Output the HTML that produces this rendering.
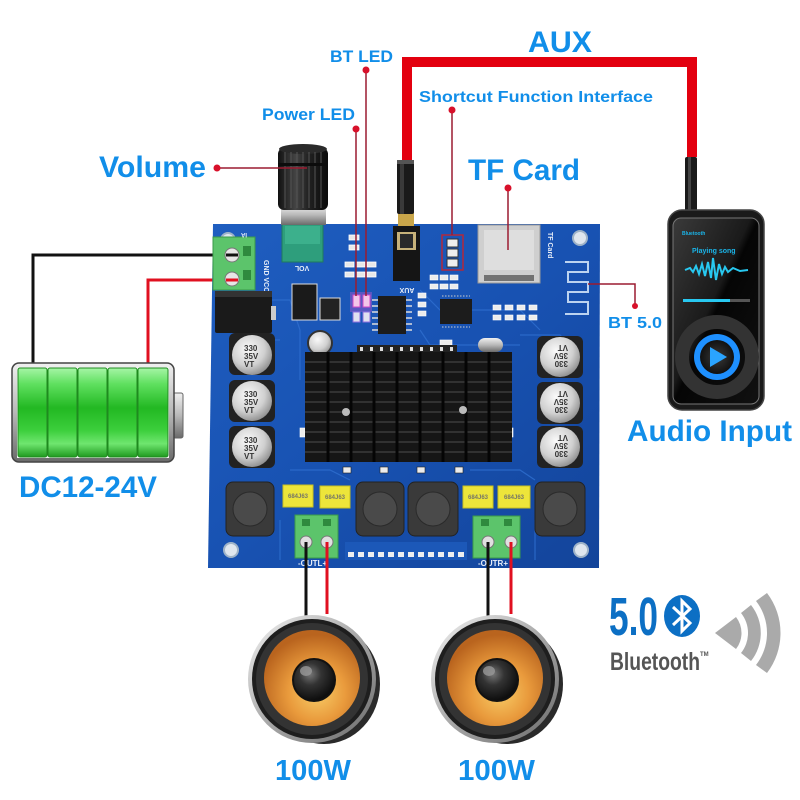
<!DOCTYPE html>
<html><head><meta charset="utf-8"><style>
html,body{margin:0;padding:0;background:#fff;}
svg{display:block;}
text{font-family:"Liberation Sans",Arial,sans-serif;font-weight:bold;}
</style></head><body>
<svg width="800" height="800" viewBox="0 0 800 800" xmlns="http://www.w3.org/2000/svg">
<defs>
<linearGradient id="board" x1="0" y1="0" x2="1" y2="1">
<stop offset="0" stop-color="#1f5ec0"/><stop offset="0.5" stop-color="#1852b2"/><stop offset="1" stop-color="#13449a"/>
</linearGradient>
<linearGradient id="cell" x1="0" y1="0" x2="0" y2="1">
<stop offset="0" stop-color="#a6f5a6"/><stop offset="0.18" stop-color="#5fe05f"/><stop offset="0.45" stop-color="#22b822"/><stop offset="0.7" stop-color="#3ccf3c"/><stop offset="0.85" stop-color="#6fe66f"/><stop offset="1" stop-color="#1f9a1f"/>
</linearGradient>
<linearGradient id="silv" x1="0" y1="0" x2="0" y2="1">
<stop offset="0" stop-color="#f0f0f0"/><stop offset="0.5" stop-color="#b8b8b8"/><stop offset="1" stop-color="#6a6a6a"/>
</linearGradient>
<linearGradient id="silvh" x1="0" y1="0" x2="1" y2="1">
<stop offset="0" stop-color="#f4f4f4"/><stop offset="0.5" stop-color="#a8a8a8"/><stop offset="1" stop-color="#6a6a6a"/>
</linearGradient>
<radialGradient id="cone" cx="0.55" cy="0.65" r="0.6">
<stop offset="0" stop-color="#f8cc66"/><stop offset="0.5" stop-color="#e99a3c"/><stop offset="1" stop-color="#b9641e"/>
</radialGradient>
<radialGradient id="dome" cx="0.4" cy="0.35" r="0.7">
<stop offset="0" stop-color="#777"/><stop offset="0.4" stop-color="#333"/><stop offset="1" stop-color="#0a0a0a"/>
</radialGradient>
<radialGradient id="cap" cx="0.4" cy="0.35" r="0.7">
<stop offset="0" stop-color="#fafafa"/><stop offset="0.6" stop-color="#d0d0d0"/><stop offset="1" stop-color="#8a8a8a"/>
</radialGradient>
<linearGradient id="knob" x1="0" y1="0" x2="1" y2="0">
<stop offset="0" stop-color="#111"/><stop offset="0.35" stop-color="#444"/><stop offset="0.6" stop-color="#222"/><stop offset="1" stop-color="#0a0a0a"/>
</linearGradient>
<linearGradient id="scr" x1="0" y1="0" x2="1" y2="1">
<stop offset="0" stop-color="#3a3a3a"/><stop offset="0.45" stop-color="#1a1a1a"/><stop offset="0.5" stop-color="#050505"/><stop offset="1" stop-color="#111"/>
</linearGradient>
<radialGradient id="play" cx="0.5" cy="0.5" r="0.5">
<stop offset="0" stop-color="#3a3a3a"/><stop offset="1" stop-color="#111"/>
</radialGradient>
</defs>

<!-- ===== Battery wires ===== -->
<polyline points="233,255 33,255 33,364" fill="none" stroke="#111" stroke-width="3"/>
<polyline points="233,280 148,280 148,364" fill="none" stroke="#e01020" stroke-width="3"/>

<!-- ===== AUX cable ===== -->
<polyline points="407,162 407,62 692,62 692,157" fill="none" stroke="#e3000f" stroke-width="10"/>

<!-- ===== PCB board ===== -->
<polygon points="213,224 600,224 599,568 208,568" fill="url(#board)"/>
<!-- traces -->
<g stroke="#2f6fd0" stroke-width="1.2" fill="none" opacity="0.8">
<path d="M260,300 L290,300 L300,330 L300,380"/>
<path d="M420,290 L440,310 L520,310 L540,330"/>
<path d="M290,470 L330,470 L350,480"/>
<path d="M470,470 L520,470 L535,480"/>
<path d="M520,335 L560,335 L570,345"/>
<path d="M240,340 L280,340"/>
<path d="M420,330 L430,345 L520,345"/>
<path d="M280,520 L280,560"/>
<path d="M535,520 L535,560"/>
</g>
<!-- mounting holes -->
<g fill="#dfe6ee" stroke="#9fb3c8" stroke-width="2">
<circle cx="228" cy="240" r="7"/><circle cx="580" cy="238" r="7"/>
<circle cx="231" cy="550" r="7"/><circle cx="581" cy="550" r="7"/>
</g>

<!-- power terminal -->
<rect x="213" y="237" width="42" height="53" fill="#5cc46b" stroke="#3a9a4a"/>
<rect x="243" y="246" width="8" height="10" fill="#2f8a3e"/>
<rect x="243" y="270" width="8" height="10" fill="#2f8a3e"/>
<circle cx="232" cy="255" r="7" fill="#e6e6e6" stroke="#777"/>
<circle cx="232" cy="279" r="7" fill="#e6e6e6" stroke="#777"/>
<line x1="226" y1="255" x2="238" y2="255" stroke="#111" stroke-width="3"/>
<line x1="226" y1="280" x2="238" y2="280" stroke="#e01020" stroke-width="3"/>
<text x="264" y="260" font-size="7" fill="#e8eef8" transform="rotate(90 264 260)">GND VCC</text>
<text x="247" y="233" font-size="6" fill="#e8eef8" transform="rotate(180 247 233)">IA</text>
<!-- DC jack -->
<rect x="215" y="291" width="57" height="42" fill="#1a1a1a" rx="2"/>
<rect x="215" y="291" width="57" height="6" fill="#333"/>
<rect x="271" y="306" width="5" height="14" fill="#ccc"/>

<!-- knob & pot -->
<rect x="282" y="223" width="41" height="39" fill="#2e9e7c" stroke="#1f7a5e"/>
<rect x="285" y="226" width="35" height="18" fill="#3cb08c"/>
<text x="302" y="270" font-size="7" fill="#e8eef8" transform="rotate(180 302 268)" text-anchor="middle">VOL</text>
<rect x="281" y="205" width="45" height="20" fill="url(#silv)"/>
<rect x="278" y="148" width="50" height="62" rx="6" fill="url(#knob)"/>
<ellipse cx="303" cy="149" rx="24" ry="5" fill="#2a2a2a"/>
<g stroke="#555" stroke-width="1">
<line x1="285" y1="152" x2="285" y2="208"/><line x1="291" y1="152" x2="291" y2="208"/>
<line x1="297" y1="152" x2="297" y2="208"/><line x1="303" y1="152" x2="303" y2="208"/>
<line x1="309" y1="152" x2="309" y2="208"/><line x1="315" y1="152" x2="315" y2="208"/>
<line x1="321" y1="152" x2="321" y2="208"/>
</g>
<rect x="278" y="163" width="50" height="3" fill="#0c0c0c"/>

<!-- SMD LEDs area -->
<g fill="#e8e8e8" stroke="#fff" stroke-width="0.8">
<rect x="349" y="235" width="10" height="5"/><rect x="349" y="245" width="10" height="5"/>
<rect x="345" y="262" width="9" height="5"/><rect x="356" y="262" width="9" height="5"/><rect x="367" y="262" width="9" height="5"/>
<rect x="345" y="272" width="9" height="5"/><rect x="356" y="272" width="9" height="5"/><rect x="367" y="272" width="9" height="5"/>
</g>
<rect x="350" y="292" width="22" height="20" fill="#d45ad8" opacity="0.35"/>
<rect x="353" y="295" width="7" height="12" fill="#f3c6e9" stroke="#d048c8"/>
<rect x="363" y="295" width="7" height="12" fill="#f3c6e9" stroke="#d048c8"/>
<rect x="353" y="312" width="7" height="10" fill="#e0e0f0" stroke="#9070e0"/>
<rect x="363" y="312" width="7" height="10" fill="#e0e0f0" stroke="#9070e0"/>
<!-- regulators -->
<rect x="292" y="284" width="25" height="36" fill="#1a1a1a" stroke="#ddd"/>
<rect x="320" y="298" width="20" height="22" fill="#222" stroke="#ddd"/>
<!-- IC1 -->
<rect x="378" y="296" width="28" height="38" fill="#1c1c1c"/>
<g stroke="#ddd" stroke-width="1.5">
<line x1="372" y1="300" x2="378" y2="300"/><line x1="372" y1="306" x2="378" y2="306"/><line x1="372" y1="312" x2="378" y2="312"/><line x1="372" y1="318" x2="378" y2="318"/><line x1="372" y1="324" x2="378" y2="324"/><line x1="372" y1="330" x2="378" y2="330"/>
<line x1="406" y1="300" x2="412" y2="300"/><line x1="406" y1="306" x2="412" y2="306"/><line x1="406" y1="312" x2="412" y2="312"/><line x1="406" y1="318" x2="412" y2="318"/><line x1="406" y1="324" x2="412" y2="324"/><line x1="406" y1="330" x2="412" y2="330"/>
</g>
<!-- IC2 -->
<rect x="440" y="299" width="32" height="25" fill="#1c1c1c"/>
<g stroke="#ccc" stroke-width="1">
<line x1="442" y1="296" x2="470" y2="296" stroke-dasharray="1.5 1.5"/>
<line x1="442" y1="327" x2="470" y2="327" stroke-dasharray="1.5 1.5"/>
</g>
<!-- misc smd -->
<g fill="#ececec" stroke="#fff" stroke-width="0.6">
<rect x="418" y="293" width="8" height="5"/><rect x="418" y="302" width="8" height="5"/><rect x="418" y="311" width="8" height="5"/>
<rect x="430" y="275" width="8" height="5"/><rect x="440" y="275" width="8" height="5"/><rect x="450" y="275" width="8" height="5"/>
<rect x="430" y="284" width="8" height="5"/><rect x="440" y="284" width="8" height="5"/><rect x="450" y="284" width="8" height="5"/>
<rect x="493" y="305" width="8" height="5"/><rect x="505" y="305" width="8" height="5"/><rect x="517" y="305" width="8" height="5"/><rect x="529" y="305" width="8" height="5"/>
<rect x="493" y="315" width="8" height="5"/><rect x="505" y="315" width="8" height="5"/><rect x="517" y="315" width="8" height="5"/><rect x="529" y="315" width="8" height="5"/>
<rect x="440" y="340" width="12" height="6"/><rect x="300" y="428" width="5" height="9"/><rect x="508" y="428" width="5" height="9"/>
</g>
<!-- crystal -->
<rect x="478" y="338" width="25" height="14" rx="7" fill="url(#silv)"/>
<!-- small cap -->
<circle cx="320" cy="343" r="12" fill="url(#cap)" stroke="#333" stroke-width="2"/>
<!-- AUX jack -->
<rect x="393" y="226" width="27" height="55" fill="#151515"/>
<rect x="397" y="232" width="19" height="18" fill="#c7b27a"/>
<rect x="400" y="234" width="13" height="14" fill="#2a2a2a"/>
<text x="407" y="292" font-size="7" fill="#e8eef8" transform="rotate(180 407 290)" text-anchor="middle">AUX</text>
<!-- plug left -->
<rect x="398" y="212" width="16" height="14" fill="#c9a64a"/>
<rect x="397" y="160" width="17" height="54" rx="2" fill="#1a1a1a"/>
<rect x="400" y="160" width="4" height="54" fill="#3a3a3a"/>
<rect x="397" y="160" width="17" height="4" fill="#555"/>
<!-- Shortcut pins -->
<rect x="442" y="235" width="21" height="35" fill="none" stroke="#b4283a" stroke-width="1.5"/>
<g fill="#eee" stroke="#333">
<rect x="447" y="239" width="11" height="8"/><rect x="447" y="249" width="11" height="8"/><rect x="447" y="259" width="11" height="8"/>
</g>
<!-- TF slot -->
<rect x="478" y="225" width="62" height="58" fill="#cfcfcf" stroke="#999"/>
<rect x="484" y="230" width="50" height="40" fill="#dedede"/>
<rect x="484" y="275" width="50" height="6" fill="#333" opacity="0.6"/>
<text x="548" y="232" font-size="7" fill="#e8eef8" transform="rotate(90 548 232)">TF Card</text>
<!-- antenna -->
<path d="M565,262 L588,262 L588,272 L568,272 L568,282 L588,282 L588,292 L568,292 L568,302 L588,302 L588,314 L565,314" fill="none" stroke="#bcd3f0" stroke-width="2"/>

<!-- heat sink -->
<rect x="357" y="345" width="100" height="8" fill="#222"/>
<g fill="#ddd"><rect x="360" y="347" width="3" height="4"/><rect x="370" y="347" width="3" height="4"/><rect x="380" y="347" width="3" height="4"/><rect x="390" y="347" width="3" height="4"/><rect x="400" y="347" width="3" height="4"/><rect x="410" y="347" width="3" height="4"/><rect x="420" y="347" width="3" height="4"/><rect x="430" y="347" width="3" height="4"/><rect x="440" y="347" width="3" height="4"/><rect x="450" y="347" width="3" height="4"/></g>
<rect x="305" y="352" width="207" height="110" fill="#161616"/>
<g stroke="#444" stroke-width="1.2">
<line x1="305" y1="362" x2="512" y2="362"/><line x1="305" y1="372" x2="512" y2="372"/><line x1="305" y1="382" x2="512" y2="382"/><line x1="305" y1="392" x2="512" y2="392"/><line x1="305" y1="402" x2="512" y2="402"/><line x1="305" y1="412" x2="512" y2="412"/><line x1="305" y1="422" x2="512" y2="422"/><line x1="305" y1="432" x2="512" y2="432"/><line x1="305" y1="442" x2="512" y2="442"/><line x1="305" y1="452" x2="512" y2="452"/>
</g>
<g stroke="#050505" stroke-width="3">
<line x1="328" y1="352" x2="328" y2="462"/><line x1="351" y1="352" x2="351" y2="462"/><line x1="374" y1="352" x2="374" y2="462"/><line x1="397" y1="352" x2="397" y2="462"/><line x1="420" y1="352" x2="420" y2="462"/><line x1="443" y1="352" x2="443" y2="462"/><line x1="466" y1="352" x2="466" y2="462"/><line x1="489" y1="352" x2="489" y2="462"/>
</g>
<circle cx="346" cy="412" r="4" fill="#bbb"/><circle cx="463" cy="410" r="4" fill="#bbb"/>
<!-- small smd under heatsink -->
<g fill="#ececec" stroke="#222" stroke-width="0.6">
<rect x="343" y="467" width="8" height="6"/><rect x="380" y="467" width="8" height="6"/><rect x="417" y="467" width="8" height="6"/><rect x="455" y="467" width="8" height="6"/>
</g>

<!-- capacitors left -->
<g>
<rect x="229" y="333" width="46" height="42" rx="6" fill="#222"/>
<circle cx="252" cy="355" r="20" fill="url(#cap)"/>
<rect x="229" y="380" width="46" height="42" rx="6" fill="#222"/>
<circle cx="252" cy="401" r="20" fill="url(#cap)"/>
<rect x="229" y="426" width="46" height="42" rx="6" fill="#222"/>
<circle cx="252" cy="447" r="20" fill="url(#cap)"/>
<g font-size="8" fill="#333" font-weight="normal">
<text x="244" y="351">330</text><text x="244" y="359">35V</text><text x="244" y="367">VT</text>
<text x="244" y="397">330</text><text x="244" y="405">35V</text><text x="244" y="413">VT</text>
<text x="244" y="443">330</text><text x="244" y="451">35V</text><text x="244" y="459">VT</text>
</g>
</g>
<!-- capacitors right -->
<g>
<rect x="537" y="336" width="46" height="42" rx="6" fill="#222"/>
<circle cx="560" cy="357" r="20" fill="url(#cap)"/>
<rect x="537" y="382" width="46" height="42" rx="6" fill="#222"/>
<circle cx="560" cy="403" r="20" fill="url(#cap)"/>
<rect x="537" y="426" width="46" height="42" rx="6" fill="#222"/>
<circle cx="560" cy="447" r="20" fill="url(#cap)"/>
<g font-size="8" fill="#333" font-weight="normal">
<text transform="rotate(180 560 357)" x="552" y="353">330</text><text transform="rotate(180 560 357)" x="552" y="361">35V</text><text transform="rotate(180 560 357)" x="552" y="369">VT</text>
<text transform="rotate(180 560 403)" x="552" y="399">330</text><text transform="rotate(180 560 403)" x="552" y="407">35V</text><text transform="rotate(180 560 403)" x="552" y="415">VT</text>
<text transform="rotate(180 560 447)" x="552" y="443">330</text><text transform="rotate(180 560 447)" x="552" y="451">35V</text><text transform="rotate(180 560 447)" x="552" y="459">VT</text>
</g>
</g>

<!-- inductors -->
<g>
<rect x="226" y="482" width="48" height="54" rx="7" fill="#3a3a3a" stroke="#222"/>
<circle cx="250" cy="509" r="17" fill="#4a4a4a" stroke="#2a2a2a"/>
<rect x="356" y="482" width="48" height="54" rx="7" fill="#3a3a3a" stroke="#222"/>
<circle cx="380" cy="509" r="17" fill="#4a4a4a" stroke="#2a2a2a"/>
<rect x="408" y="482" width="50" height="54" rx="7" fill="#3a3a3a" stroke="#222"/>
<circle cx="433" cy="509" r="17" fill="#4a4a4a" stroke="#2a2a2a"/>
<rect x="535" y="482" width="50" height="54" rx="7" fill="#3a3a3a" stroke="#222"/>
<circle cx="560" cy="509" r="17" fill="#4a4a4a" stroke="#2a2a2a"/>
</g>
<!-- yellow caps -->
<g fill="#ede53a" stroke="#c9c020">
<rect x="283" y="485" width="30" height="22"/><rect x="320" y="486" width="30" height="22"/>
<rect x="463" y="486" width="30" height="22"/><rect x="498" y="486" width="32" height="22"/>
</g>
<g font-size="6" fill="#776" font-weight="normal">
<text x="288" y="498">684J63</text><text x="325" y="499">684J63</text><text x="468" y="499">684J63</text><text x="504" y="499">684J63</text>
</g>
<!-- output terminals -->
<rect x="295" y="515" width="43" height="43" fill="#5cc46b" stroke="#3a9a4a"/>
<rect x="473" y="516" width="47" height="42" fill="#5cc46b" stroke="#3a9a4a"/>
<g fill="#2f8a3e"><rect x="302" y="519" width="8" height="7"/><rect x="323" y="519" width="8" height="7"/><rect x="481" y="519" width="8" height="7"/><rect x="504" y="519" width="8" height="7"/></g>
<g fill="#e0e0e0" stroke="#777"><circle cx="306" cy="542" r="6"/><circle cx="327" cy="542" r="6"/><circle cx="488" cy="542" r="6"/><circle cx="511" cy="542" r="6"/></g>
<!-- bottom smd row -->
<rect x="345" y="542" width="122" height="18" fill="#1c58b8"/>
<g fill="#eee"><rect x="348" y="552" width="6" height="5"/><rect x="358" y="552" width="6" height="5"/><rect x="368" y="552" width="6" height="5"/><rect x="378" y="552" width="6" height="5"/><rect x="388" y="552" width="6" height="5"/><rect x="398" y="552" width="6" height="5"/><rect x="408" y="552" width="6" height="5"/><rect x="418" y="552" width="6" height="5"/><rect x="428" y="552" width="6" height="5"/><rect x="438" y="552" width="6" height="5"/><rect x="448" y="552" width="6" height="5"/><rect x="458" y="552" width="6" height="5"/></g>
<text x="298" y="566" font-size="8" fill="#e8eef8">-OUTL+</text>
<text x="478" y="566" font-size="8" fill="#e8eef8">-OUTR+</text>

<!-- speaker wires -->
<line x1="306" y1="542" x2="306" y2="616" stroke="#111" stroke-width="3"/>
<line x1="327" y1="542" x2="327" y2="614" stroke="#e01020" stroke-width="3"/>
<line x1="488" y1="542" x2="488" y2="616" stroke="#111" stroke-width="3"/>
<line x1="511" y1="542" x2="511" y2="614" stroke="#e01020" stroke-width="3"/>

<!-- speakers -->
<g>
<ellipse cx="324" cy="684" rx="56" ry="60" fill="#2a2a2a"/>
<circle cx="312" cy="679" r="64" fill="url(#silvh)"/>
<circle cx="312" cy="679" r="60" fill="#1e1e1e"/>
<circle cx="312" cy="679" r="56" fill="#333"/>
<circle cx="312" cy="678" r="48" fill="url(#cone)"/>
<circle cx="314" cy="680" r="22" fill="#111"/>
<circle cx="314" cy="680" r="20" fill="url(#dome)"/>
<ellipse cx="306" cy="671" rx="6" ry="5" fill="#999" opacity="0.8"/>
</g>
<g transform="translate(183,0)">
<ellipse cx="324" cy="684" rx="56" ry="60" fill="#2a2a2a"/>
<circle cx="312" cy="679" r="64" fill="url(#silvh)"/>
<circle cx="312" cy="679" r="60" fill="#1e1e1e"/>
<circle cx="312" cy="679" r="56" fill="#333"/>
<circle cx="312" cy="678" r="48" fill="url(#cone)"/>
<circle cx="314" cy="680" r="22" fill="#111"/>
<circle cx="314" cy="680" r="20" fill="url(#dome)"/>
<ellipse cx="306" cy="671" rx="6" ry="5" fill="#999" opacity="0.8"/>
</g>

<!-- battery -->
<rect x="173" y="393" width="10" height="45" rx="2" fill="url(#silv)" stroke="#666"/>
<rect x="12" y="363" width="162" height="99" rx="7" fill="url(#silv)" stroke="#444" stroke-width="1.5"/>
<rect x="17" y="367" width="152" height="91" fill="#f4f4f4"/>
<g fill="url(#cell)" stroke="#1f8a1f" stroke-width="1">
<rect x="18" y="368" width="29" height="89" rx="2"/>
<rect x="48" y="368" width="29" height="89" rx="2"/>
<rect x="78" y="368" width="29" height="89" rx="2"/>
<rect x="108" y="368" width="29" height="89" rx="2"/>
<rect x="138" y="368" width="30" height="89" rx="2"/>
</g>

<!-- music player -->
<rect x="685" y="157" width="12" height="56" rx="2" fill="#1a1a1a"/>
<rect x="688" y="157" width="3" height="56" fill="#444"/>
<rect x="668" y="210" width="96" height="200" rx="14" fill="#1a1a1a" stroke="#444" stroke-width="1.5"/>
<rect x="673" y="218" width="86" height="186" rx="8" fill="url(#scr)" stroke="#777" stroke-width="1"/>
<text x="682" y="235" font-size="5" fill="#1ab4e8" font-weight="normal">Bluetooth</text>
<text x="692" y="253" font-size="7" fill="#1ab4e8" font-weight="normal">Playing song</text>
<path d="M685,270 L690,268 L693,272 L696,266 L699,274 L702,264 L705,276 L708,262 L711,278 L713,258 L716,280 L719,264 L722,274 L725,267 L728,272 L733,268 L740,271 L748,270" fill="none" stroke="#28c8f0" stroke-width="2"/>
<rect x="683" y="299" width="67" height="3" fill="#555"/>
<rect x="683" y="299" width="47" height="3" fill="#28c8f0"/>
<circle cx="717" cy="357" r="35" fill="none" stroke="#333" stroke-width="14"/>
<circle cx="717" cy="357" r="23" fill="#1e90ff"/>
<circle cx="717" cy="357" r="17" fill="url(#play)"/>
<polygon points="710,347 710,367 727,357" fill="#2aa4ff"/>

<!-- leader lines -->
<g stroke="#9b1b30" stroke-width="1.5" fill="none">
<line x1="217" y1="168" x2="307" y2="168"/>
<line x1="356" y1="129" x2="356" y2="296"/>
<line x1="366" y1="70" x2="366" y2="296"/>
<line x1="452" y1="110" x2="452" y2="235"/>
<line x1="508" y1="188" x2="508" y2="250"/>
<polyline points="588,284 635,284 635,305"/>
</g>
<g fill="#d8102a">
<circle cx="217" cy="168" r="3.5"/><circle cx="356" cy="129" r="3.5"/><circle cx="366" cy="70" r="3.5"/>
<circle cx="452" cy="110" r="3.5"/><circle cx="508" cy="188" r="3.5"/><circle cx="635" cy="306" r="3"/>
</g>

<!-- labels -->
<g fill="#118ee9">
<text x="528" y="52" font-size="30" textLength="64" lengthAdjust="spacingAndGlyphs">AUX</text>
<text x="419" y="102" font-size="16" textLength="234" lengthAdjust="spacingAndGlyphs">Shortcut Function Interface</text>
<text x="330" y="62" font-size="17" textLength="63" lengthAdjust="spacingAndGlyphs">BT LED</text>
<text x="262" y="120" font-size="17" textLength="93" lengthAdjust="spacingAndGlyphs">Power LED</text>
<text x="99" y="177" font-size="30" textLength="107" lengthAdjust="spacingAndGlyphs">Volume</text>
<text x="468" y="180" font-size="30" textLength="112" lengthAdjust="spacingAndGlyphs">TF Card</text>
<text x="608" y="328" font-size="16" textLength="54" lengthAdjust="spacingAndGlyphs">BT 5.0</text>
<text x="627" y="441" font-size="30" textLength="165" lengthAdjust="spacingAndGlyphs">Audio Input</text>
<text x="19" y="497" font-size="30" textLength="138" lengthAdjust="spacingAndGlyphs">DC12-24V</text>
<text x="275" y="780" font-size="29" textLength="76" lengthAdjust="spacingAndGlyphs">100W</text>
<text x="458" y="780" font-size="29" textLength="77" lengthAdjust="spacingAndGlyphs">100W</text>
</g>

<!-- Bluetooth 5.0 logo -->
<text x="609" y="635" font-size="54" fill="#0c6fc4" textLength="49" lengthAdjust="spacingAndGlyphs">5.0</text>
<ellipse cx="682" cy="616" rx="18" ry="21" fill="#0c6fc4"/>
<polyline points="673,607 690,623 682,631 682,601 690,609 673,625" fill="none" stroke="#fff" stroke-width="3" stroke-linejoin="miter"/>
<text x="610" y="670" font-size="25" fill="#555" textLength="90" lengthAdjust="spacingAndGlyphs">Bluetooth</text>
<text x="700" y="656" font-size="6" fill="#555">TM</text>
<g fill="#aaa">
<path d="M715,633 L736,617 A26,26 0 0 1 736,649 Z"/>
<path d="M741,613 A32,32 0 0 1 741,653 L751,661 A45,45 0 0 0 751,605 Z"/>
<path d="M756,601 A52,52 0 0 1 756,665 L767,673 A66,66 0 0 0 767,593 Z"/>
</g>
</svg>
</body></html>
